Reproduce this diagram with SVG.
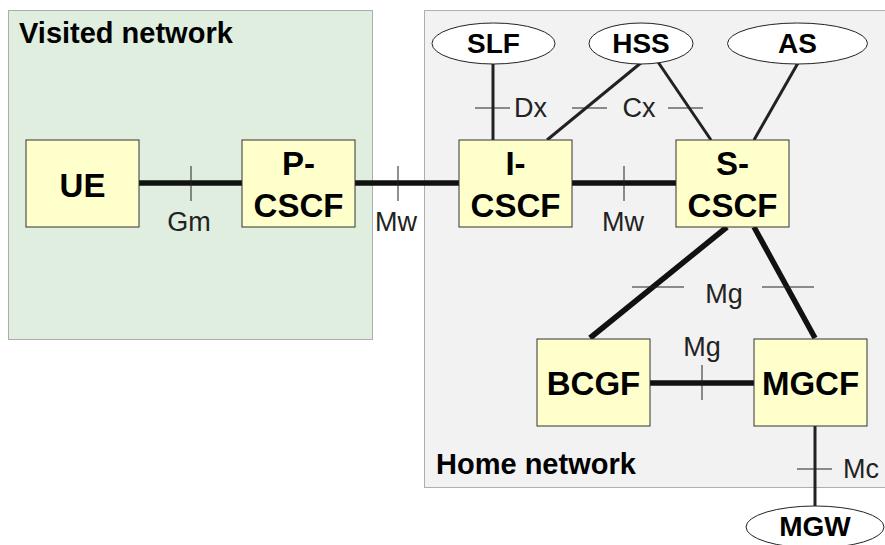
<svg xmlns="http://www.w3.org/2000/svg" width="885" height="545" viewBox="0 0 885 545">
<style>
.area{stroke:#666;stroke-width:1;stroke-dasharray:1 1}
.box{fill:#ffffcc;stroke:#333;stroke-width:1}
.ell{fill:#fff;stroke:#222;stroke-width:1}
.nt{font-family:"Liberation Sans",Arial,sans-serif;font-weight:bold;font-size:33px;fill:#000;text-anchor:middle}
.et{font-family:"Liberation Sans",Arial,sans-serif;font-weight:bold;font-size:28px;fill:#000;text-anchor:middle}
.at{font-family:"Liberation Sans",Arial,sans-serif;font-weight:bold;font-size:29px;fill:#000}
.lb{font-family:"Liberation Sans",Arial,sans-serif;font-size:27px;fill:#222}
.thick{stroke:#111;stroke-width:5.5;fill:none}
.med{stroke:#222;stroke-width:3;fill:none}
.tick{stroke:#222;stroke-width:1;fill:none}
</style>
<g id="visited-network">
<rect class="area" x="8.5" y="10.5" width="364" height="329" fill="#dfeedf"/>
<text class="at" x="19" y="43">Visited network</text>
</g>
<g id="home-network">
<rect class="area" x="424.5" y="10.5" width="470" height="477" fill="#f2f2f2"/>
<text class="at" x="436" y="474">Home network</text>
</g>
<g id="connectors">
<line class="thick" x1="139" y1="183" x2="242" y2="183"/>
<line class="tick" x1="191" y1="166" x2="191" y2="201"/>
<text class="lb" x="189" y="231" text-anchor="middle">Gm</text>
<line class="thick" x1="355" y1="183" x2="459" y2="183"/>
<line class="tick" x1="398" y1="166" x2="398" y2="201"/>
<text class="lb" x="396" y="231" text-anchor="middle">Mw</text>
<line class="thick" x1="572" y1="183" x2="676" y2="183"/>
<line class="tick" x1="624" y1="166" x2="624" y2="201"/>
<text class="lb" x="623" y="231" text-anchor="middle">Mw</text>
<line class="med" x1="493" y1="63" x2="493" y2="140"/>
<line class="tick" x1="475" y1="108" x2="510" y2="108"/>
<text class="lb" x="514" y="117">Dx</text>
<line class="med" x1="642" y1="62" x2="547" y2="140"/>
<line class="med" x1="658" y1="62" x2="711" y2="140"/>
<line class="tick" x1="572" y1="108" x2="607" y2="108"/>
<line class="tick" x1="668" y1="108" x2="703" y2="108"/>
<text class="lb" x="639" y="117" text-anchor="middle">Cx</text>
<line class="med" x1="798" y1="63" x2="754" y2="140"/>
<line class="thick" x1="727" y1="227" x2="590" y2="338"/>
<line class="thick" x1="754" y1="227" x2="815" y2="338"/>
<line class="tick" x1="632" y1="287" x2="684" y2="287"/>
<line class="tick" x1="762" y1="287" x2="814" y2="287"/>
<text class="lb" x="724" y="303" text-anchor="middle">Mg</text>
<line class="thick" x1="650" y1="383" x2="754" y2="383"/>
<line class="tick" x1="702" y1="365" x2="702" y2="400"/>
<text class="lb" x="702" y="356" text-anchor="middle">Mg</text>
<line class="med" x1="815" y1="426" x2="815" y2="506"/>
<line class="tick" x1="797" y1="469" x2="832" y2="469"/>
<text class="lb" x="843" y="478">Mc</text>
</g>
<g id="UE">
<rect class="box" x="26" y="140" width="113" height="87"/>
<text class="nt" x="82.5" y="197">UE</text>
</g>
<g id="P-CSCF">
<rect class="box" x="242" y="140" width="113" height="87"/>
<text class="nt" x="298.5" y="175">P-</text>
<text class="nt" x="298.5" y="217">CSCF</text>
</g>
<g id="I-CSCF">
<rect class="box" x="459" y="140" width="113" height="87"/>
<text class="nt" x="515.5" y="175">I-</text>
<text class="nt" x="515.5" y="217">CSCF</text>
</g>
<g id="S-CSCF">
<rect class="box" x="676" y="140" width="113" height="87"/>
<text class="nt" x="732.5" y="175">S-</text>
<text class="nt" x="732.5" y="217">CSCF</text>
</g>
<g id="BCGF">
<rect class="box" x="537" y="339" width="113" height="87"/>
<text class="nt" x="593.5" y="395">BCGF</text>
</g>
<g id="MGCF">
<rect class="box" x="754" y="339" width="113" height="87"/>
<text class="nt" x="810.5" y="395">MGCF</text>
</g>
<g id="SLF">
<ellipse class="ell" cx="493.5" cy="43.5" rx="61.5" ry="20.5"/>
<text class="et" x="493.5" y="53">SLF</text>
</g>
<g id="HSS">
<ellipse class="ell" cx="641" cy="43.5" rx="52" ry="20.5"/>
<text class="et" x="641" y="53">HSS</text>
</g>
<g id="AS">
<ellipse class="ell" cx="797.5" cy="43.5" rx="70" ry="20.5"/>
<text class="et" x="797.5" y="53">AS</text>
</g>
<g id="MGW">
<ellipse class="ell" cx="815" cy="527" rx="69" ry="21"/>
<text class="et" x="815" y="536">MGW</text>
</g>
</svg>
